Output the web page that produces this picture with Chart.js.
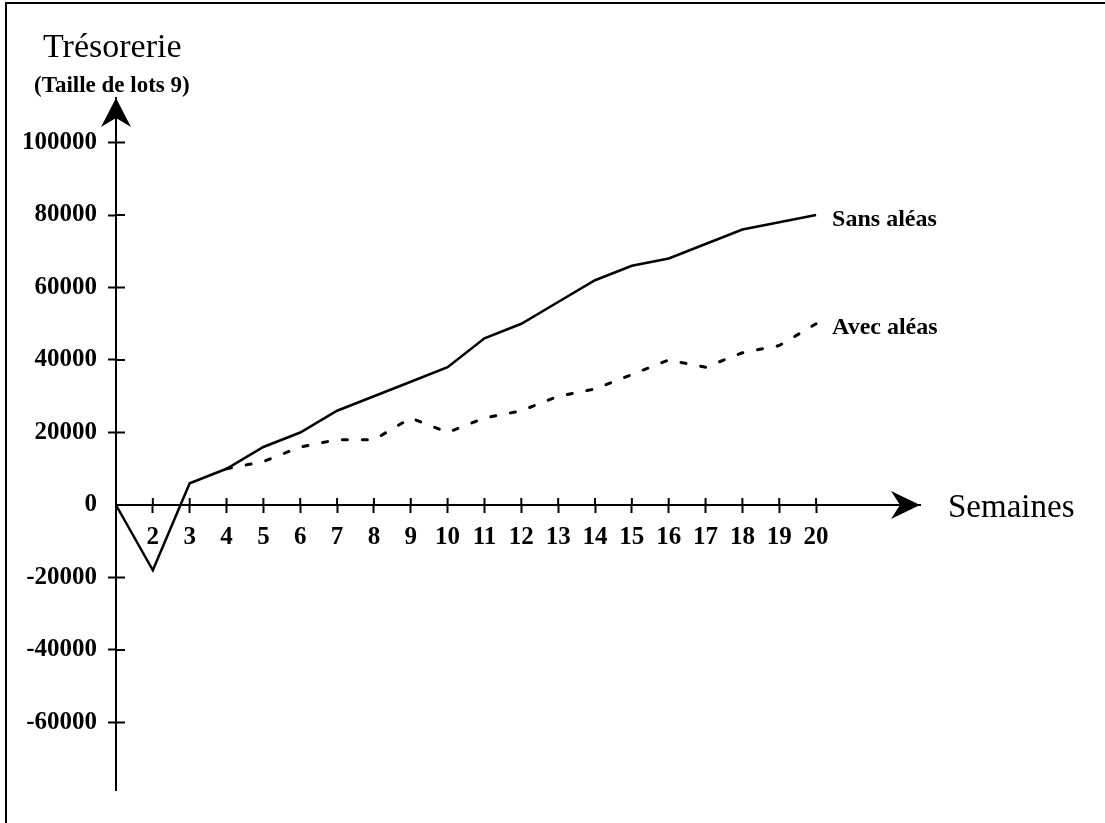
<!DOCTYPE html>
<html>
<head>
<meta charset="utf-8">
<script src="https://cdn.jsdelivr.net/npm/chart.js@4/dist/chart.umd.min.js"></script>
<style>
  body { margin: 0; background: #fff; }
  canvas { display: block; }
</style>
</head>
<body>
<canvas id="tresorerie" width="1105" height="823"></canvas>
<script>
// semaines 1..20, trésorerie cumulée
const weeks = [1, 2, 3, 4, 5, 6, 7, 8, 9, 10, 11, 12, 13, 14, 15, 16, 17, 18, 19, 20];
const sansAleas = [0, -18000, 6000, 10000, 16000, 20000, 26000, 30000, 34000, 38000,
  46000, 50000, 56000, 62000, 66000, 68000, 72000, 76000, 78000, 80000];
// la courbe "avec aléas" part de la semaine 4
const avecAleas = [null, null, null, 10000, 12000, 16000, 18000, 18000, 24000, 20000,
  24000, 26000, 30000, 32000, 36000, 40000, 38000, 42000, 44000, 50000];
const xTicks = [2, 3, 4, 5, 6, 7, 8, 9, 10, 11, 12, 13, 14, 15, 16, 17, 18, 19, 20];
const yTicks = [-60000, -40000, -20000, 0, 20000, 40000, 60000, 80000, 100000];

const serif = "'Liberation Serif', 'Times New Roman', serif";

const decor = {
  id: 'decor',
  afterDraw(chart) {
    const { ctx, chartArea, scales: { x, y } } = chart;
    const ox = chartArea.left;
    const oy = y.getPixelForValue(0);
    ctx.save();
    ctx.fillStyle = '#000';
    ctx.strokeStyle = '#000';

    // cadre (haut et gauche)
    ctx.lineWidth = 2;
    ctx.beginPath();
    ctx.moveTo(6, 823);
    ctx.lineTo(6, 3);
    ctx.lineTo(1105, 3);
    ctx.stroke();

    // l'autre moitié des graduations (elles traversent l'axe)
    ctx.lineWidth = 2;
    ctx.beginPath();
    yTicks.forEach(v => {
      if (v === 0) return;
      const py = y.getPixelForValue(v);
      ctx.moveTo(ox, py);
      ctx.lineTo(ox + 9, py);
    });
    xTicks.forEach(v => {
      const px = x.getPixelForValue(v);
      ctx.moveTo(px, oy);
      ctx.lineTo(px, oy - 7);
    });
    ctx.stroke();

    // flèches
    const top = chartArea.top;
    ctx.beginPath();
    ctx.moveTo(ox, top);
    ctx.lineTo(ox + 15, top + 29);
    ctx.lineTo(ox, top + 20);
    ctx.lineTo(ox - 15, top + 29);
    ctx.closePath();
    ctx.fill();

    const right = chartArea.right;
    ctx.beginPath();
    ctx.moveTo(right, oy);
    ctx.lineTo(right - 29, oy - 14);
    ctx.lineTo(right - 20, oy);
    ctx.lineTo(right - 29, oy + 14);
    ctx.closePath();
    ctx.fill();

    // textes
    ctx.textAlign = 'left';
    ctx.textBaseline = 'alphabetic';
    ctx.font = '34px ' + serif;
    ctx.fillText('Trésorerie', 43, 57);
    ctx.font = '33px ' + serif;
    ctx.fillText('Semaines', right + 28, oy + 12);
    ctx.font = 'bold 23px ' + serif;
    ctx.fillText('(Taille de lots 9)', 34, 92);

    const last = weeks.length - 1;
    const lx = x.getPixelForValue(weeks[last]) + 16;
    ctx.font = 'bold 24px ' + serif;
    ctx.fillText('Sans aléas', lx, y.getPixelForValue(sansAleas[last]) + 11);
    ctx.fillText('Avec aléas', lx, y.getPixelForValue(avecAleas[last]) + 10);
    ctx.restore();
  }
};

const chart = new Chart(document.getElementById('tresorerie'), {
  type: 'line',
  data: {
    datasets: [
      {
        label: 'Sans aléas',
        data: weeks.map((w, i) => ({ x: w, y: sansAleas[i] })),
        borderColor: '#000',
        borderWidth: 2.5,
        pointRadius: 0,
        tension: 0,
        fill: false,
      },
      {
        label: 'Avec aléas',
        data: weeks.map((w, i) => ({ x: w, y: avecAleas[i] })),
        borderColor: '#000',
        borderWidth: 3,
        borderDash: [5, 15],
        borderCapStyle: 'round',
        pointRadius: 0,
        tension: 0,
        fill: false,
      },
    ],
  },
  options: {
    responsive: false,
    animation: false,
    devicePixelRatio: 1,
    layout: {
      padding: { top: 98, bottom: 33, right: 185, left: 0 },
    },
    plugins: {
      legend: { display: false },
      tooltip: { enabled: false },
    },
    scales: {
      x: {
        type: 'linear',
        position: { y: 0 },
        min: 1,
        max: 22.82,
        afterBuildTicks: (s) => { s.ticks = xTicks.map(v => ({ value: v })); },
        border: { display: true, color: '#000', width: 2 },
        grid: {
          drawOnChartArea: false,
          drawTicks: true,
          tickLength: 7,
          tickWidth: 2,
          tickColor: '#000',
        },
        ticks: {
          autoSkip: false,
          maxRotation: 0,
          padding: 11,
          color: '#000',
          font: { family: serif, size: 25, weight: 'bold' },
          callback: (v) => String(v),
        },
      },
      y: {
        type: 'linear',
        position: 'left',
        min: -78621,
        max: 112276,
        afterFit: (s) => { s.width = 116; },
        afterBuildTicks: (s) => { s.ticks = yTicks.map(v => ({ value: v })); },
        border: { display: true, color: '#000', width: 2 },
        grid: {
          drawOnChartArea: false,
          drawTicks: true,
          tickLength: 8,
          tickWidth: 2,
          tickColor: (c) => (c.tick && c.tick.value === 0 ? 'rgba(0,0,0,0)' : '#000'),
        },
        ticks: {
          padding: 11,
          color: '#000',
          font: { family: serif, size: 25, weight: 'bold' },
          callback: (v) => String(v),
        },
      },
    },
  },
  plugins: [decor],
});
</script>
</body>
</html>
